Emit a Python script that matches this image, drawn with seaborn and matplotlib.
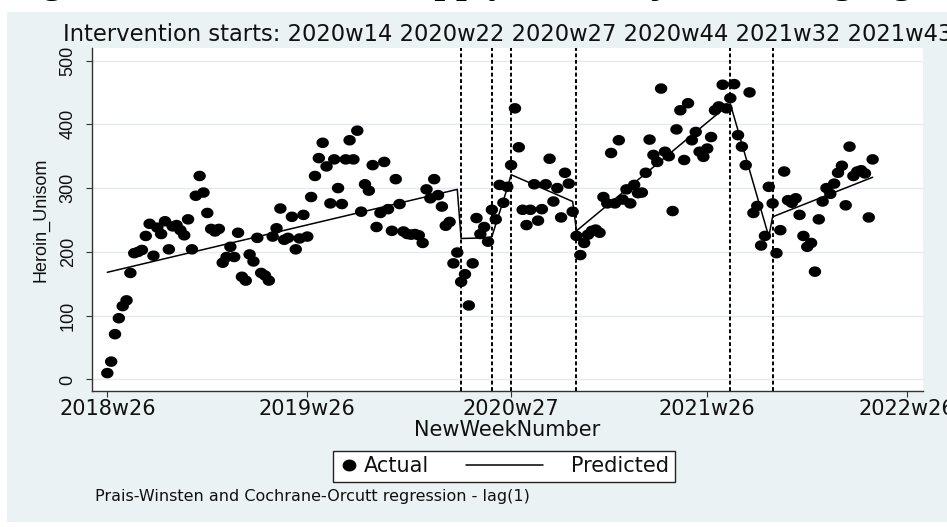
import numpy as np
import pandas as pd
import matplotlib
matplotlib.use("Agg")
import matplotlib.pyplot as plt
from matplotlib.path import Path
from matplotlib.patches import Rectangle
from matplotlib.lines import Line2D
from matplotlib.legend_handler import HandlerLine2D
import seaborn as sns

W, H = 947, 527


def week_index(label):
    """Stata %tw style index: 52 weeks per year, 0 = 2018w26."""
    year, wk = label.split("w")
    return (int(year) - 2018) * 52 + int(wk) - 26


# ---- data -------------------------------------------------------------
tick_labels = ["2018w26", "2019w26", "2020w27", "2021w26", "2022w26"]
intervention_labels = ["2020w14", "2020w22", "2020w27", "2020w44", "2021w32", "2021w43"]

# weekly observed counts, starting at 2018w26
actual = [
    10, 28, 71, 96, 115, 124, 167, 198, 200, 203,
    225, 244, 194, 238, 228, 248, 204, 240, 242, 234,
    226, 251, 204, 288, 319, 293, 261, 236, 232, 236,
    183, 192, 208, 192, 230, 161, 155, 196, 185, 222,
    167, 163, 155, 224, 237, 268, 219, 222, 255, 204,
    221, 258, 224, 286, 319, 347, 371, 334, 276, 345,
    300, 275, 345, 375, 345, 390, 263, 306, 296, 336,
    239, 261, 341, 267, 233, 314, 275, 232, 228, 227,
    228, 226, 214, 298, 284, 314, 289, 271, 241, 247,
    182, 199, 153, 165, 116, 182, 253, 228, 239, 216,
    266, 251, 305, 277, 302, 336, 425, 364, 266, 242,
    266, 306, 249, 267, 306, 346, 279, 300, 254, 324,
    307, 263, 225, 195, 214, 227, 233, 235, 230, 286,
    276, 355, 276, 375, 282, 298, 276, 305, 292, 293,
    324, 376, 352, 341, 456, 357, 350, 264, 392, 422,
    344, 433, 375, 388, 357, 349, 362, 380, 422, 428,
    462, 425, 441, 463, 383, 365, 336, 450, 261, 272,
    210, 225, 302, 276, 198, 234, 326, 281, 277, 284,
    258, 225, 208, 214, 169, 251, 279, 300, 291, 307,
    324, 335, 273, 365, 319, 326, 328, 323, 254, 345,
]

# fitted segmented trend (week index, value) at segment ends
pred_weeks = [0, 91, 92, 99, 100, 104, 105, 121, 122, 161, 162, 172, 173, 199]
pred_values = [168, 298, 221, 222, 224, 300, 321, 279, 233, 428, 432, 224, 255, 317]

weeks = np.arange(len(actual))
obs = pd.DataFrame({"week": weeks, "value": actual})
fit = pd.DataFrame({"week": pred_weeks, "value": pred_values})

# ---- style ------------------------------------------------------------
sns.set_theme(style="white")
plt.rcParams["font.family"] = ["DejaVu Sans"]

BG = "#EAF2F3"
INK = "#333333"

fig = plt.figure(figsize=(W / 100, H / 100), dpi=100, facecolor="white")
fig.add_artist(Rectangle((7 / W, 5 / H), 1, (H - 12 - 5) / H,
                         transform=fig.transFigure, facecolor=BG,
                         edgecolor="none", zorder=-5))

ax = fig.add_axes([91.7 / W, 1 - 390.7 / H, (923 - 91.7) / W, (390.7 - 48) / H])
ax.set_facecolor("white")

# slightly wide filled dot
theta = np.linspace(0, 2 * np.pi, 49)
dot = Path(np.column_stack([1.18 * np.cos(theta), np.sin(theta)]), closed=True)

# intervention start lines
for lab in intervention_labels:
    ax.axvline(week_index(lab), color="black", lw=1.4,
               ls=(0, (2.0, 1.3)), zorder=2)

sns.scatterplot(data=obs, x="week", y="value", marker=dot, s=80,
                color="black", edgecolor="none", linewidth=0,
                ax=ax, zorder=3, legend=False)
sns.lineplot(data=fit, x="week", y="value", color="black", linewidth=1.1,
             estimator=None, sort=False, ax=ax, zorder=4, legend=False)

ax.set_xlim(-4.06, 212.1)
ax.set_ylim(-17.6, 519.6)

ax.set_xticks([week_index(l) for l in tick_labels], tick_labels)
ax.set_yticks(range(0, 501, 100), [str(v) for v in range(0, 501, 100)],
              rotation=90, va="center", fontfamily="Liberation Sans", fontsize=13)
ax.tick_params(axis="x", direction="out", length=4.3, width=0.8, color=INK,
               pad=1.5, labelsize=15, bottom=True, labelcolor="#111111")
ax.tick_params(axis="y", direction="out", length=4.3, width=0.8, color=INK,
               pad=6.5, left=True, labelcolor="#111111")

ax.yaxis.grid(True, color="#E3EBEE", lw=1.0)
ax.xaxis.grid(False)
ax.set_axisbelow(True)

sns.despine(ax=ax)
for side in ("left", "bottom"):
    ax.spines[side].set_color(INK)
    ax.spines[side].set_linewidth(1.0)

ax.set_xlabel("NewWeekNumber", fontsize=15, labelpad=1, color="#111111")
ax.set_ylabel("Heroin_Unisom", fontfamily="Liberation Sans", fontsize=13,
              labelpad=7, color="#111111")

fig.text(508 / W, 1 - 41 / H,
         "Intervention starts: " + " ".join(intervention_labels),
         ha="center", va="baseline", fontsize=16.3, color="#111111")

# caption of the page above the graph, only its lowest part falls on the canvas
fig.text(8 / W, 1 + 8 / H,
         "Figure 4: Trends of the supply, each adjusted using lag",
         ha="left", va="baseline", fontsize=28, fontweight="bold",
         fontfamily="Liberation Serif", color="black")


# ---- legend -----------------------------------------------------------
class LongLineHandler(HandlerLine2D):
    """Draws the line key longer than the handle box and shifted left."""

    def __init__(self, length, shift, **kw):
        super().__init__(**kw)
        self.length = length
        self.shift = shift

    def create_artists(self, legend, orig_handle, xdescent, ydescent,
                       width, height, fontsize, trans):
        y = (height - ydescent) / 2.0
        x1 = -xdescent + width - self.shift
        line = Line2D([x1 - self.length, x1], [y, y])
        self.update_prop(line, orig_handle, legend)
        line.set_transform(trans)
        return [line]


h_actual = Line2D([], [], ls="none", marker=dot, markersize=8.9,
                  color="black", label="Actual")
h_pred = Line2D([], [], color="black", lw=1.1, label="Predicted")

leg = ax.legend(handles=[h_actual, h_pred], ncol=2, loc="center",
                bbox_to_anchor=(504 / W, 1 - 466.5 / H),
                bbox_transform=fig.transFigure, fontsize=15,
                frameon=True, fancybox=False, shadow=False,
                borderpad=0.28, handlelength=1.0, handletextpad=0.2,
                columnspacing=5.65,
                handler_map={h_pred: LongLineHandler(length=56, shift=17.3)})
frame = leg.get_frame()
frame.set_facecolor("white")
frame.set_edgecolor("#222222")
frame.set_linewidth(1.0)
frame.set_alpha(1)
for t in leg.get_texts():
    t.set_color("#111111")

fig.text(95 / W, 1 - 497 / H,
         "Prais-Winsten and Cochrane-Orcutt regression - lag(1)",
         ha="left", va="center", fontsize=11.5, color="#111111")

fig.savefig("out.png", dpi=100)
